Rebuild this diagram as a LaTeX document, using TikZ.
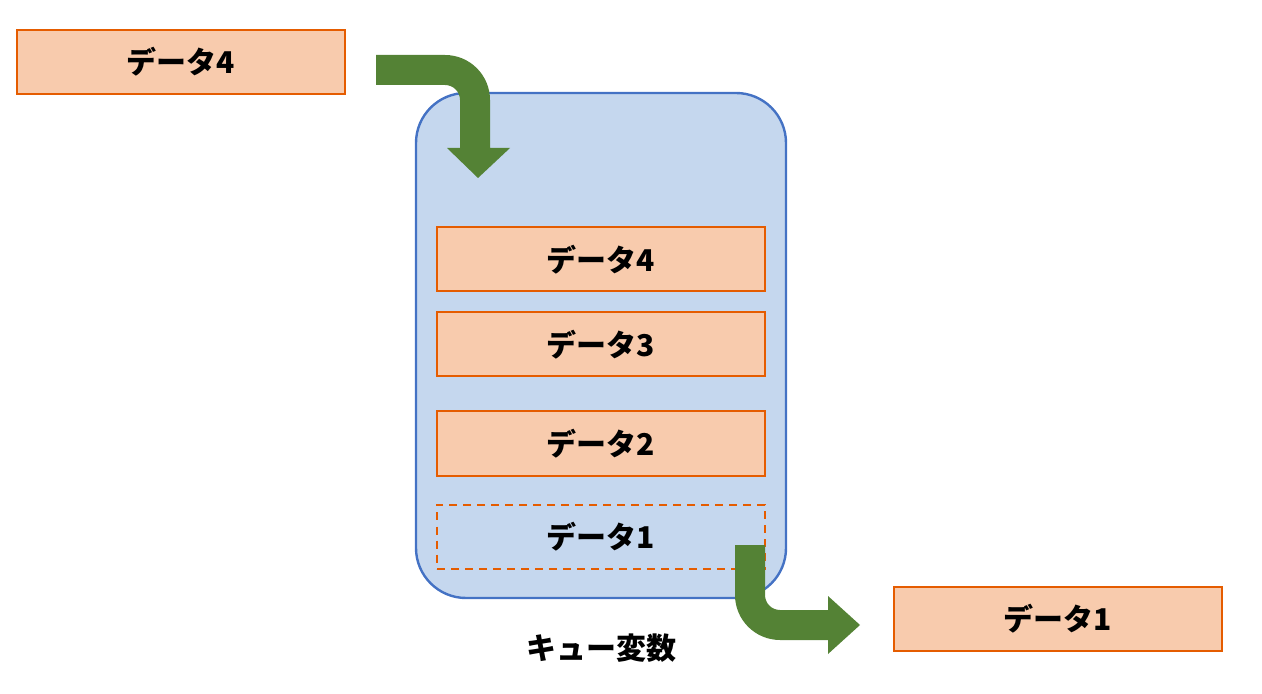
\documentclass[tikz,border=0pt]{standalone}
\usepackage{fontspec}
\setmainfont{Noto Sans CJK JP}
\begin{document}
\begin{tikzpicture}[x=0.5pt, y=-0.5pt,
    every node/.style={font=\fontsize{15}{18}\selectfont\bfseries, inner sep=0pt},
    databox/.style={draw=orange!80!red!90!black, line width=1pt, fill=dataFill,
        minimum width=164pt, minimum height=32pt},
    emptybox/.style={databox, fill=none, dashed, dash pattern=on 4pt off 3pt},
    flow/.style={fill=arrowGreen, draw=none}]
    \definecolor{dataFill}{HTML}{F8CBAD}
    \definecolor{arrowGreen}{HTML}{548235}
    \definecolor{queueFill}{HTML}{C5D7EE}
    \definecolor{queueLine}{HTML}{4472C4}
    \useasboundingbox (0,0) rectangle (1262,694);

    % Queue container
    \node[draw=queueLine, line width=1.2pt, fill=queueFill, rounded corners=25pt,
        minimum width=185pt, minimum height=252.5pt] (queue) at (601,345.5) {};
    \node (label) at (601,648) {キュー変数};

    % Data inside the queue
    \node[databox] (q4) at (601,259.5) {データ4};
    \node[databox] (q3) at (601,344.5) {データ3};
    \node[databox] (q2) at (601,443.5) {データ2};
    \node[emptybox] (q1) at (601,536.5) {データ1};

    % Data going in and out
    \node[databox] (in) at (181,62) {データ4};
    \node[databox] (out) at (1057.5,619) {データ1};

    % Enqueue arrow
    \fill[flow] (376,55) -- (445,55) arc[start angle=-90, end angle=0, radius=45]
        -- (490,148) -- (510,148) -- (478,178) -- (447,148) -- (460,148)
        -- (460,100) arc[start angle=0, end angle=-90, radius=15] -- (376,85) -- cycle;

    % Dequeue arrow
    \fill[flow] (735,545) -- (735,595) arc[start angle=180, end angle=90, radius=45]
        -- (828,640) -- (828,654) -- (860,625) -- (828,596) -- (828,610)
        -- (780,610) arc[start angle=90, end angle=180, radius=15] -- (765,545) -- cycle;
\end{tikzpicture}
\end{document}
